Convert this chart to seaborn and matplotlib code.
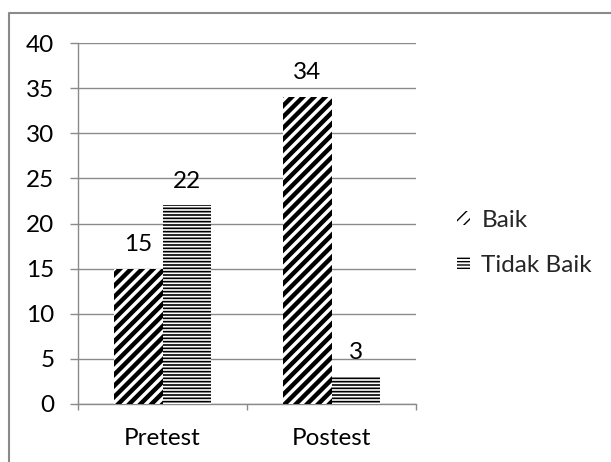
import matplotlib
matplotlib.use("Agg")
import matplotlib.pyplot as plt
from matplotlib.lines import Line2D
from matplotlib.patches import Patch
from matplotlib.ticker import FixedLocator
import seaborn as sns
import pandas as pd

# Data
tests = ["Pretest", "Postest"]
series = ["Baik", "Tidak Baik"]
baik = [15, 34]
tidak_baik = [22, 3]
y_ticks = [0, 5, 10, 15, 20, 25, 30, 35, 40]

df = pd.DataFrame({
    "Tes": tests * 2,
    "Kategori": [series[0]] * 2 + [series[1]] * 2,
    "Jumlah": baik + tidak_baik,
})

sns.set_theme(style="white")
plt.rcParams["font.family"] = ["Lato", "DejaVu Sans"]
FS = 17.5
GRAY = "#8a8a8a"

fig = plt.figure(figsize=(6.11, 4.62), dpi=100)
ax = fig.add_axes([78 / 611, 1 - 404 / 462, (416 - 78) / 611, (404 - 43) / 462])

sns.barplot(data=df, x="Tes", y="Jumlah", hue="Kategori", hue_order=series,
            order=tests, palette=["white", "white"], width=0.57, gap=0,
            edgecolor="black", linewidth=0, legend=False, ax=ax, zorder=3)

hatches = ["///", "-----"]
hatch_lw = [3.2, 1.2]
for cont, h, lw in zip(ax.containers, hatches, hatch_lw):
    for bar in cont:
        bar.set_hatch(h)
        bar.set_edgecolor("black")
        bar.set_linewidth(0)
        if hasattr(bar, "set_hatch_linewidth"):
            bar.set_hatch_linewidth(lw)
    ax.bar_label(cont, fmt="%d", padding=10, fontsize=FS, color="black")

ax.set_xlim(-0.5, 1.5)
ax.set_ylim(0, 40)
ax.set_yticks(y_ticks)
ax.set_xlabel("")
ax.set_ylabel("")
ax.grid(axis="y", color=GRAY, linewidth=1.0, zorder=0)
ax.set_axisbelow(True)

for s in ["top", "right"]:
    ax.spines[s].set_visible(False)
for s in ["left", "bottom"]:
    ax.spines[s].set_color(GRAY)
    ax.spines[s].set_linewidth(1.0)

ax.tick_params(axis="y", direction="out", length=6, width=1.0, color=GRAY,
               labelsize=FS, pad=11, left=True)
ax.tick_params(axis="x", which="major", length=0, labelsize=FS, pad=17)
ax.xaxis.set_minor_locator(FixedLocator([-0.5, 0.5, 1.5]))
ax.tick_params(axis="x", which="minor", direction="out", length=4.5,
               width=1.0, color=GRAY, bottom=True)
for lab in ax.get_xticklabels() + ax.get_yticklabels():
    lab.set_color("black")

handles = [Patch(facecolor="white", edgecolor="black", linewidth=0, hatch=h)
           for h in hatches]
for hd, lw in zip(handles, hatch_lw):
    if hasattr(hd, "set_hatch_linewidth"):
        hd.set_hatch_linewidth(lw)
fig.legend(handles, series, loc="center left",
           bbox_to_anchor=(457 / 611, 1 - 243 / 462), frameon=False,
           fontsize=FS, handlelength=0.55, handleheight=0.5,
           handletextpad=0.45, labelspacing=1.0, borderpad=0,
           borderaxespad=0)

# Chart border (left and top edges)
fig.add_artist(Line2D([9 / 611, 9 / 611, 1.0], [0.0, 1 - 13 / 462, 1 - 13 / 462],
                      transform=fig.transFigure, color=GRAY, linewidth=1.5))

fig.savefig("out.png", dpi=100)
